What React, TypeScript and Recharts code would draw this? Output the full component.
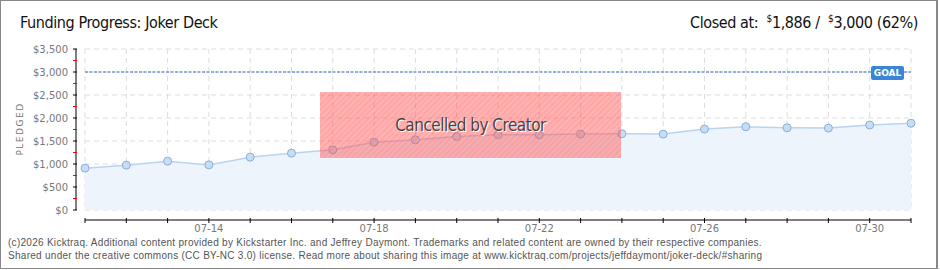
import React from 'react';
import { AreaChart, Area, XAxis, YAxis, CartesianGrid, ReferenceLine } from 'recharts';

// daily pledged totals (07-11 .. 07-31)
const days = [
  '07-11', '07-12', '07-13', '07-14', '07-15', '07-16', '07-17',
  '07-18', '07-19', '07-20', '07-21', '07-22', '07-23', '07-24',
  '07-25', '07-26', '07-27', '07-28', '07-29', '07-30', '07-31',
];
const pledged = [
  910, 975, 1062, 981, 1149, 1236, 1308,
  1475, 1526, 1598, 1635, 1635, 1650, 1657,
  1650, 1760, 1810, 1788, 1781, 1847, 1886,
];
const labeledDays = ['07-14', '07-18', '07-22', '07-26', '07-30'];
const yTicks = [0, 250, 500, 750, 1000, 1250, 1500, 1750, 2000, 2250, 2500, 2750, 3000, 3250, 3500];
const yGrid = [0, 500, 1000, 1500, 2000, 2500, 3000, 3500];
const goal = 3000;

const data = days.map((d, i) => ({ day: d, pledged: pledged[i] }));

const fmt = (v: number) => '$' + v.toLocaleString('en-US');

// axes sit a little away from the plot area
const X_SHIFT = 10;
const Y_SHIFT = -9;

const XTick = (props: any) => {
  const { x, payload } = props;
  const y = props.y + X_SHIFT;
  const show = labeledDays.includes(payload.value);
  return (
    <g>
      <line x1={x} x2={x} y1={y - 2} y2={y + 3} stroke="#000" />
      {show && (
        <text x={x} y={y + 12} textAnchor="middle" fontSize={10} fill="#777" fontFamily="DejaVu Sans">
          {payload.value}
        </text>
      )}
    </g>
  );
};

const YTick = (props: any) => {
  const { y, payload } = props;
  const x = props.x + Y_SHIFT;
  const major = payload.value % 500 === 0;
  return (
    <g>
      <line x1={x - 3} x2={x + 1} y1={y} y2={y} stroke={major ? '#000' : '#e00'} />
      {major && (
        <text x={x - 8} y={y + 4} textAnchor="end" fontSize={10} fill="#777" fontFamily="DejaVu Sans">
          {fmt(payload.value)}
        </text>
      )}
    </g>
  );
};

const GoalLabel = (props: any) => {
  const { viewBox } = props;
  const right = viewBox.x + viewBox.width;
  return (
    <g>
      <rect x={right - 40} y={viewBox.y - 6} width={33} height={14} rx={2} fill="#3a86d6" />
      <text x={right - 23.5} y={viewBox.y + 4} textAnchor="middle" fontSize={9} fontWeight="bold" fill="#fff" fontFamily="DejaVu Sans">
        GOAL
      </text>
    </g>
  );
};

const head = '"DejaVu Sans Condensed", sans-serif';

export default function App() {
  return (
    <div style={{ position: 'absolute', left: 0, top: 0, width: 940, height: 270, background: '#fff', overflow: 'hidden' }}>
      <style>{`
        line.kt-xline, line.recharts-cartesian-axis-line[orientation="bottom"] { transform: translateY(${X_SHIFT}px); }
        line.kt-yline, line.recharts-cartesian-axis-line[orientation="left"] { transform: translateX(${Y_SHIFT}px); }
      `}</style>
      <div style={{ position: 'absolute', left: 0, top: 0, width: 938, height: 269, border: '1px solid #888', borderRightWidth: 2, boxSizing: 'border-box' }} />
      <div style={{ position: 'absolute', left: 20, top: 13, fontFamily: head, fontSize: 16, letterSpacing: -0.4, color: '#111', whiteSpace: 'nowrap' }}>
        Funding Progress: Joker Deck
      </div>
      <div style={{ position: 'absolute', right: 22, top: 13, fontFamily: head, fontSize: 16, letterSpacing: -0.4, color: '#111', whiteSpace: 'nowrap' }}>
        Closed at:&nbsp; <sup style={{ fontSize: 10 }}>$</sup>1,886 /&nbsp; <sup style={{ fontSize: 10 }}>$</sup>3,000 (62%)
      </div>
      <div style={{ position: 'absolute', left: 20, top: 129, transform: 'translate(-50%, -50%) rotate(-90deg)', fontFamily: 'DejaVu Sans', fontSize: 9, letterSpacing: 1.5, color: '#777' }}>
        PLEDGED
      </div>
      <AreaChart width={940} height={270} data={data} margin={{ top: 49, right: 29, bottom: 40, left: 25 }}>
        <CartesianGrid stroke="#ddd" strokeDasharray="5 4" horizontalValues={yGrid} />
        <XAxis
          dataKey="day"
          scale="point"
          interval={0}
          height={20}
          tickSize={0}
          tickMargin={0}
          tickLine={false}
          axisLine={{ stroke: '#000', className: 'kt-xline' }}
          tick={<XTick />}
        />
        <YAxis
          domain={[0, 3500]}
          ticks={yTicks}
          interval={0}
          width={60}
          tickSize={0}
          tickMargin={0}
          tickLine={false}
          axisLine={{ stroke: '#000', className: 'kt-yline' }}
          tick={<YTick />}
        />
        <ReferenceLine y={goal} stroke="#8fb0dc" strokeWidth={2} strokeDasharray="3 1.5" label={<GoalLabel />} />
        <Area
          type="linear"
          dataKey="pledged"
          stroke="#b8d4f0"
          strokeWidth={1.5}
          fill="#edf4fc"
          fillOpacity={1}
          dot={{ r: 4, fill: '#c6ddf6', stroke: '#8eaed4', strokeWidth: 1, fillOpacity: 1 }}
          isAnimationActive={false}
        />
      </AreaChart>
      <div style={{ position: 'absolute', left: 320, top: 92, width: 301, height: 66, background: 'repeating-linear-gradient(135deg, rgba(255,80,80,0.5) 0 2px, rgba(255,95,95,0.48) 2px 4px)', display: 'flex', alignItems: 'center', justifyContent: 'center' }}>
        <span style={{ fontFamily: head, fontSize: 17, letterSpacing: -0.5, color: '#444', textShadow: '1px 1px 0 #fff' }}>Cancelled by Creator</span>
      </div>
      <div style={{ position: 'absolute', left: 8, top: 236, fontFamily: '"Liberation Sans", sans-serif', fontSize: 10, letterSpacing: 0.28, lineHeight: '13px', color: '#555', whiteSpace: 'nowrap' }}>
        <div>(c)2026 Kicktraq. Additional content provided by Kickstarter Inc. and Jeffrey Daymont. Trademarks and related content are owned by their respective companies.</div>
        <div>Shared under the creative commons (CC BY-NC 3.0) license. Read more about sharing this image at www.kicktraq.com/projects/jeffdaymont/joker-deck/#sharing</div>
      </div>
    </div>
  );
}
